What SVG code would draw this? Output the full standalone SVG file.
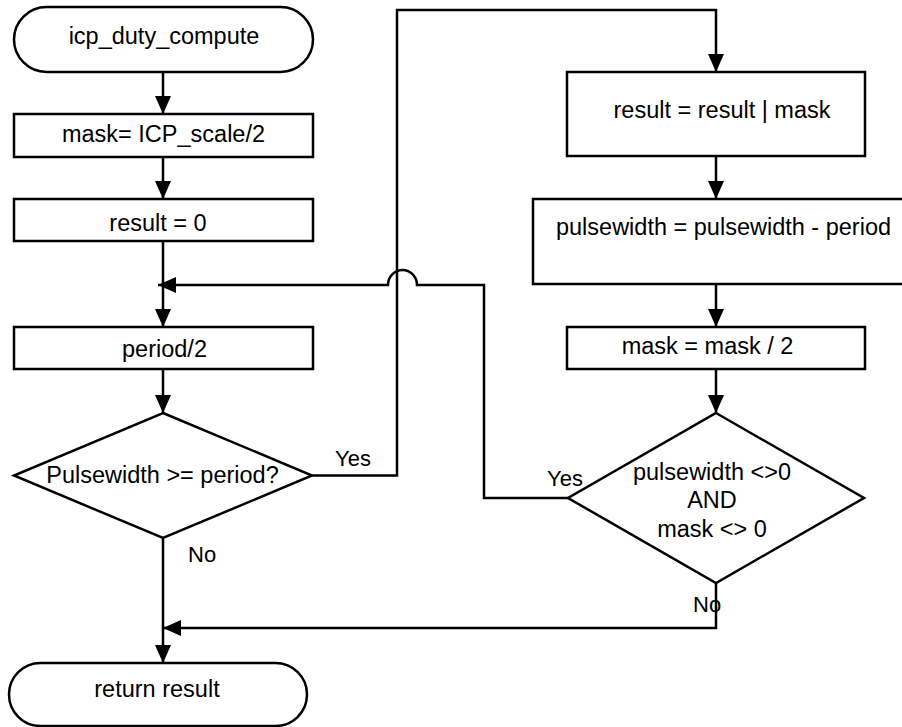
<svg xmlns="http://www.w3.org/2000/svg" width="902" height="727" viewBox="0 0 902 727">
  <defs>
    <marker id="arrow" markerUnits="userSpaceOnUse" markerWidth="18" markerHeight="16" refX="18" refY="8" orient="auto">
      <path d="M0,0 L18,8 L0,16 Z" fill="#000"/>
    </marker>
    <style>
      .shape { fill: #fff; stroke: #000; stroke-width: 2.5; }
      .wire { fill: none; stroke: #000; stroke-width: 2.5; }
      .arrow { marker-end: url(#arrow); }
      text { font-family: "Liberation Sans", Arial, sans-serif; fill: #000; }
      .t { font-size: 23.5px; text-anchor: middle; }
      .lbl { font-size: 22px; }
    </style>
  </defs>
  <rect width="902" height="727" fill="#fff"/>

  <!-- connectors -->
  <g id="connectors">
    <path class="wire arrow" d="M163,72 V114"/>
    <path class="wire arrow" d="M163,157 V199"/>
    <path class="wire arrow" d="M163,241 V327"/>
    <path class="wire arrow" d="M163,369 V413"/>
    <path class="wire arrow" d="M163,538 V663"/>
    <!-- Yes branch of the first test -->
    <path class="wire arrow" d="M312,475.5 H397 V10 H716 V72"/>
    <path class="wire arrow" d="M716,156 V199"/>
    <path class="wire arrow" d="M716,284 V327"/>
    <path class="wire arrow" d="M716,369 V413"/>
    <!-- loop back, hopping over the Yes line -->
    <path class="wire arrow" d="M568,498 H484 V285 H417 A14.5,15 0 0 0 388,285 H158"/>
    <!-- No branch of the loop test -->
    <path class="wire arrow" d="M716,583 V628 H163"/>
    <text class="lbl" x="335" y="466">Yes</text>
    <text class="lbl" x="188" y="562">No</text>
    <text class="lbl" x="547" y="486">Yes</text>
    <text class="lbl" x="693" y="612">No</text>
  </g>

  <g id="start">
    <rect class="shape" x="14" y="7" width="299" height="65" rx="32.5"/>
    <text class="t" x="164" y="44">icp_duty_compute</text>
  </g>
  <g id="init-mask">
    <rect class="shape" x="14" y="114" width="299" height="43"/>
    <text class="t" x="163.5" y="142">mask= ICP_scale/2</text>
  </g>
  <g id="init-result">
    <rect class="shape" x="14" y="199" width="299" height="42"/>
    <text class="t" x="158" y="231">result = 0</text>
  </g>
  <g id="halve-period">
    <rect class="shape" x="14" y="327" width="299" height="42"/>
    <text class="t" x="164.5" y="357">period/2</text>
  </g>
  <g id="test-pulsewidth">
    <polygon class="shape" points="163,413 312,475.5 163,538 14,475.5"/>
    <text class="t" x="162.5" y="483">Pulsewidth &gt;= period?</text>
  </g>
  <g id="end">
    <rect class="shape" x="9" y="663" width="298" height="63" rx="31.5"/>
    <text class="t" x="157" y="697">return result</text>
  </g>
  <g id="set-bit">
    <rect class="shape" x="567" y="72" width="298" height="84"/>
    <text class="t" x="722" y="118">result = result | mask</text>
  </g>
  <g id="subtract-period">
    <rect class="shape" x="533" y="199" width="380" height="85"/>
    <text class="t" x="723.5" y="235">pulsewidth = pulsewidth - period</text>
  </g>
  <g id="halve-mask">
    <rect class="shape" x="567" y="327" width="298" height="42"/>
    <text class="t" x="707.5" y="354">mask = mask / 2</text>
  </g>
  <g id="test-loop">
    <polygon class="shape" points="716,413 864,498 716,583 568,498"/>
    <text class="t" x="712" y="480">pulsewidth &lt;&gt;0</text>
    <text class="t" x="712" y="508">AND</text>
    <text class="t" x="712" y="537">mask &lt;&gt; 0</text>
  </g>
</svg>
